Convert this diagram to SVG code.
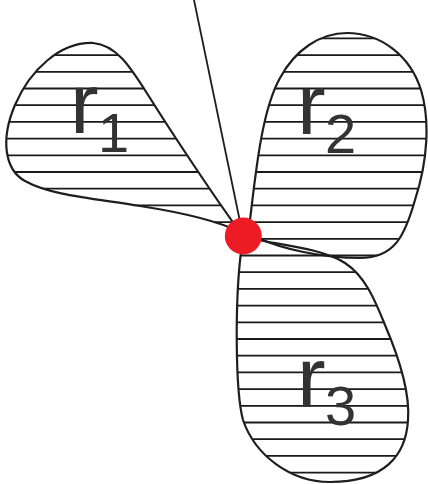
<svg xmlns="http://www.w3.org/2000/svg" width="428" height="484" viewBox="0 0 428 484">
<style>
.outline{stroke:#1e1e1e;stroke-width:2.2;fill:none}
.hl{stroke:#1a1a1a;stroke-width:1.8;fill:none}
.lbl{font-family:"Liberation Sans",Arial,sans-serif;fill:#333;}
.big{font-size:86px}
.sub{font-size:56px}
</style>
<defs>
<path id="p1" d="M240,232 C215,198 170,130 150,98 C132,70 118,45 93,43 C60,42 30,70 15,105 C0,140 5,170 25,181 C50,195 90,198 140,206 C185,213 220,222 240,232 Z"/>
<path id="p2" d="M250,220 C256,170 262,110 280,78 C295,50 320,33 347,33 C380,33 410,55 421,90 C430,120 428,160 415,200 C405,235 395,258 360,258 C320,258 280,248 258,238 Z"/>
<path id="p3" d="M258,240 C290,246 325,250 345,263 C365,276 375,300 385,325 C400,360 410,395 408,420 C406,455 385,482 330,482 C290,482 255,455 243,420 C235,390 235,300 241,252 Z"/>
<clipPath id="c1"><use href="#p1"/></clipPath>
<clipPath id="c2"><use href="#p2"/></clipPath>
<clipPath id="c3"><use href="#p3"/></clipPath>
<g id="hatch">
<path class="hl" d="M0,38.4H428M0,55.1H428M0,71.8H428M0,88.5H428M0,105.2H428M0,121.9H428M0,138.6H428M0,155.3H428M0,172H428M0,188.7H428M0,205.4H428M0,222.1H428M0,238.8H428M0,255.5H428M0,272.2H428M0,288.9H428M0,305.6H428M0,322.3H428M0,339H428M0,355.7H428M0,372.4H428M0,389.1H428M0,405.8H428M0,422.5H428M0,439.2H428M0,455.9H428M0,472.6H428"/>
</g>
</defs>
<rect width="428" height="484" fill="#fff"/>
<g id="connectors">
<path d="M194,0L243,236" stroke="#1e1e1e" stroke-width="1.8" fill="none"/>
</g>
<g id="r1">
<use href="#hatch" clip-path="url(#c1)"/>
<use href="#p1" class="outline"/>
<text class="lbl"><tspan class="big" x="70" y="133">r</tspan><tspan class="sub" x="98" y="152">1</tspan></text>
</g>
<g id="r2">
<use href="#hatch" clip-path="url(#c2)"/>
<use href="#p2" class="outline"/>
<text class="lbl"><tspan class="big" x="297" y="134">r</tspan><tspan class="sub" x="325" y="153">2</tspan></text>
</g>
<g id="r3">
<use href="#hatch" clip-path="url(#c3)"/>
<use href="#p3" class="outline"/>
<text class="lbl"><tspan class="big" x="297" y="407">r</tspan><tspan class="sub" x="325" y="425">3</tspan></text>
</g>
<g id="point">
<circle cx="243.3" cy="236" r="18.5" fill="#ed1c24"/>
</g>
</svg>
